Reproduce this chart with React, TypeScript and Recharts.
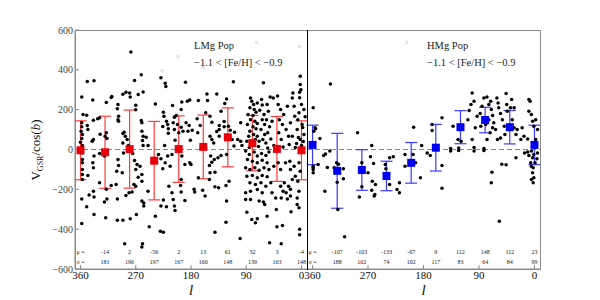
import { ScatterChart, Scatter, XAxis, YAxis, ReferenceLine, ErrorBar } from 'recharts';

const L_TICKS = [360, 270, 180, 90, 0];
const V_TICKS = [-600, -400, -200, 0, 200, 400, 600];
const BINS = [360, 320, 280, 240, 200, 160, 120, 80, 40, 0];

// first bin (360) is the same stars as the last one (0), wrapped
const LMG_MU = [-4, -14, 2, -56, 2, 13, 61, 32, 3, -4];
const LMG_SIGMA = [148, 181, 196, 197, 167, 160, 148, 139, 163, 148];
const HMG_MU = [23, -107, -103, -133, -67, 9, 112, 148, 112, 23];
const HMG_SIGMA = [99, 188, 102, 74, 102, 117, 83, 64, 84, 99];

const LMG_DOTS: [number, number][] = [
  [278, 490], [358, 263], [349, 341], [338, 345], [340, 249], [356, 176], [350, 172], [358, 134], [358, 114], [359, 92],
  [357, 75], [358, 55], [360, 37], [357, 20], [349, 120], [348, 100], [339, 147], [332, 154], [329, 160], [339, 50],
  [341, 42], [328, 77], [320, 67], [317, 55], [318, 84], [318, 236], [310, 261], [309, 266], [299, 226], [300, 204],
  [298, 167], [299, 150], [298, 142], [291, 278], [286, 288], [280, 284], [279, 264], [291, 80], [289, 87], [287, 67],
  [284, 50], [272, 346], [261, 375], [258, 289], [266, 276], [270, 199], [270, 222], [261, 145], [260, 134], [260, 92],
  [258, 67], [253, 62], [259, 45], [250, 20], [238, 229], [229, 360], [222, 333], [221, 316], [225, 187], [224, 167],
  [220, 142], [218, 125], [226, 115], [217, 104], [217, 82], [223, 20], [210, 221], [207, 162], [204, 171], [209, 134],
  [207, 100], [202, 125], [200, 84], [206, 47], [195, 239], [196, 201], [186, 242], [182, 249], [189, 338], [188, 134],
  [196, 112], [193, 92], [185, 92], [183, 120], [181, 47], [291, 33], [282, 20], [258, 20],
  [111, 340], [138, 279], [122, 254], [131, 192], [125, 231], [154, 279], [153, 246], [168, 246], [156, 184], [149, 167],
  [146, 137], [170, 154], [165, 120], [169, 84], [178, 97], [149, 67], [146, 50], [143, 33], [138, 90], [134, 120],
  [134, 100], [134, 67], [126, 140], [126, 114], [119, 117], [116, 97], [113, 50], [109, 87], [104, 50], [99, 42],
  [99, 134], [110, 17], [97, 20],
  [83, 259], [81, 242], [78, 226], [84, 209], [77, 201], [74, 187], [79, 171], [83, 150], [76, 142], [72, 130],
  [79, 114], [74, 104], [84, 92], [78, 75], [72, 67], [75, 50], [69, 42], [80, 33], [65, 251], [64, 224],
  [68, 197], [61, 176], [64, 150], [60, 125], [66, 100], [60, 75], [63, 50], [58, 33], [56, 226], [54, 192],
  [57, 150], [52, 114], [55, 84], [50, 53], [48, 142], [62, 335], [51, 264], [72, 234], [87, 176], [88, 125],
  [86, 67], [89, 42], [38, 226], [34, 201], [29, 176], [36, 150], [31, 125], [23, 217], [25, 100], [21, 67],
  [33, 50], [18, 134], [37, 84], [46, 259], [39, 268], [14, 284], [15, 259], [2, 368], [2, 326], [3, 288],
  [0, 226], [4, 184], [-4, 201], [6, 150], [-1, 125], [7, 100], [-4, 75], [2, 50], [8, 30], [-6, 164],
  [12, 217], [11, 167], [15, 67], [1, 300], [3, 260], [-2, 110], [5, 60], [0, 20], [-3, 40],
  [85, 10], [70, 15], [55, 8], [45, 20], [30, 12], [20, 25], [10, 10],
  [358, -371], [358, -248], [350, -288], [346, -228], [339, -209], [338, -238], [348, -130], [357, -100], [357, -125], [357, -150],
  [357, -67], [357, -50], [357, -17], [338, -326], [329, -167], [318, -200], [321, -264], [317, -248], [319, -343], [310, -181],
  [302, -176], [300, -248], [300, -355], [291, -355], [288, -473], [286, -231], [281, -217], [276, -214], [273, -176], [270, -184],
  [279, -348], [269, -326], [260, -259], [257, -268], [257, -284], [259, -473], [260, -490], [250, -209], [248, -388], [238, -335],
  [230, -410], [225, -415], [225, -254], [229, -284], [220, -288], [211, -217], [209, -251], [207, -284], [206, -306], [196, -214],
  [197, -181], [190, -256], [196, -150], [216, -184],
  [338, -33], [340, -67], [339, -92], [329, -20], [321, -33], [299, -50], [298, -80], [301, -109], [292, -117], [290, -17],
  [272, -55], [268, -75], [270, -100], [263, -84], [260, -125], [266, -139], [260, -159], [275, -20], [229, -47], [222, -67],
  [214, -84], [226, -97], [218, -33], [211, -25], [195, -33], [190, -75], [182, -67], [233, -25],
  [180, -75], [175, -200], [174, -214], [157, -234], [161, -204], [168, -142], [150, -151], [149, -117], [141, -114], [150, -80],
  [146, -64], [142, -50], [136, -42], [148, -33], [131, -30], [122, -25], [141, -187], [135, -192], [123, -181], [118, -159],
  [122, -259], [123, -365], [141, -415], [100, -447], [91, -217], [91, -251], [83, -251], [89, -315], [81, -351], [75, -368],
  [72, -348], [69, -259], [62, -264], [60, -276], [56, -335], [41, -301], [42, -243], [33, -243], [40, -388], [31, -381],
  [52, -468], [33, -473], [17, -313], [3, -401], [3, -428], [7, -276], [4, -293], [4, -209], [7, -243], [18, -234],
  [23, -248], [18, -200], [25, -217], [30, -209],
  [91, -8], [85, -25], [77, -13], [72, -33], [65, -20], [58, -30], [53, -13], [88, -50], [80, -59], [72, -67],
  [64, -54], [56, -67], [91, -92], [84, -100], [76, -92], [69, -104], [61, -92], [53, -100], [89, -134], [80, -130],
  [72, -142], [64, -130], [56, -137], [84, -167], [75, -176], [66, -167], [58, -184], [83, -209], [72, -201], [64, -217],
  [50, -167], [48, -217], [45, -84], [38, -67], [34, -100], [26, -67], [19, -59], [18, -100], [12, -84], [10, -134],
  [4, -67], [2, -109], [6, -159], [21, -184], [15, -151], [28, -167], [34, -184],
];

const HMG_DOTS: [number, number][] = [
  [359, 209], [331, 329], [356, 109], [358, 92], [355, 104], [348, 55], [287, 84], [264, 20], [196, 112], [183, 20],
  [166, 125], [166, 95], [150, 159], [132, 117], [124, 50], [119, 42],
  [106, 196], [108, 150], [101, 284], [98, 242], [93, 167], [88, 181], [96, 109], [101, 50], [103, 226], [87, 117],
  [85, 217], [82, 259], [77, 264], [74, 226], [71, 242], [70, 201], [68, 171], [66, 134], [63, 100], [61, 259],
  [59, 234], [58, 209], [55, 181], [52, 150], [49, 117], [48, 75], [46, 281], [45, 226], [44, 192], [55, 58],
  [60, 50], [72, 84], [77, 50], [79, 125], [74, 150], [68, 109], [39, 209], [36, 150], [33, 109], [30, 75],
  [28, 100], [22, 50], [17, 67], [11, 53], [9, 192], [7, 242], [9, 251], [5, 176], [3, 142], [1, 117],
  [-2, 150], [-5, 100], [-2, 50], [20, 109], [37, 251], [33, 209], [136, 5], [123, 8], [98, 10], [82, 5],
  [359, -84], [359, -100], [359, -117], [359, -92], [351, -75], [342, -30], [339, -23], [332, -8], [336, -90], [340, -209],
  [325, -92], [321, -67], [318, -74], [320, -164], [319, -301], [310, -97], [310, -147], [308, -438], [284, -239], [280, -67],
  [280, -187], [270, -117], [266, -37], [261, -70], [263, -159], [258, -176], [264, -204], [259, -226], [260, -234], [242, -75],
  [241, -97], [235, -42], [229, -37], [235, -176], [223, -201], [219, -217], [219, -167], [210, -25], [210, -84], [197, -25],
  [193, -67], [185, -142], [174, -17], [169, -30], [150, -80], [150, -194], [136, -8], [123, -5], [98, -8], [82, -5],
  [69, -114], [70, -167], [57, -360], [53, -74], [46, -77], [30, -42], [16, -17], [11, -13], [9, -30], [5, -8],
  [1, -25], [3, -42], [6, -67], [5, -84], [2, -92], [3, -117], [1, -142], [5, -151], [2, -167], [-1, -67],
  [-5, -17], [-4, -47],
];

// very pale points near the top of the panels
const LMG_FAINT: [number, number][] = [[73, 537], [201, 467], [227, 397], [160, 412], [3, 517]];
const HMG_FAINT: [number, number][] = [[207, 537]];

const SERIF = '"Liberation Serif", "DejaVu Serif", serif';
const FRAME = '#8a8a8a';
const MU_ROW = -517;
const SIGMA_ROW = -567;

const minus = (v: number) => String(v).replace('-', '\u2212');

const Dot = (p: any) => <circle cx={p.cx} cy={p.cy} r={1.75} fill="#000" />;
const FaintDot = (p: any) => <circle cx={p.cx} cy={p.cy} r={1.75} fill="#e4e4e4" />;
const RowText = (p: any) => (
  <text x={p.cx} y={p.cy} textAnchor="middle" dominantBaseline="central" fontSize={6} fontFamily={SERIF} fill="#222">
    {p.payload.text}
  </text>
);

const XTitle = (p: any) => (
  <text x={p.viewBox.x + p.viewBox.width / 2} y={p.viewBox.y + 26} textAnchor="middle" fontSize={15} fontStyle="italic" fontFamily={SERIF} fill="#111">
    l
  </text>
);

const YTitle = () => (
  <text transform="translate(40, 150) rotate(-90)" textAnchor="middle" fontSize={13} fontFamily={SERIF} fill="#111">
    V<tspan fontSize={8} dy={3}>GSR</tspan>
    <tspan dy={-3}>/cos(</tspan>
    <tspan fontStyle="italic">b</tspan>)
  </text>
);

interface PanelProps {
  left: number;
  width: number;
  marginLeft: number;
  marginRight: number;
  dots: [number, number][];
  faint: [number, number][];
  mu: number[];
  sigma: number[];
  color: string;
  barColor: string;
  first: boolean;
  title: string;
  titleLeft: number;
}

function Panel(props: PanelProps) {
  const { left, width, marginLeft, marginRight, dots, faint, mu, sigma, color, barColor, first, title, titleLeft } = props;
  const pts = dots.map(([l, v]) => ({ l, v }));
  const pale = faint.map(([l, v]) => ({ l, v }));
  const means = BINS.map((l, i) => ({ l, v: mu[i], err: sigma[i] }));
  const muRow = BINS.map((l, i) => ({ l, v: MU_ROW, text: i === 0 ? '\u03bc =' : String(mu[i]) }));
  const sigmaRow = BINS.map((l, i) => ({ l, v: SIGMA_ROW, text: i === 0 ? '\u03c3 =' : String(sigma[i]) }));
  const Square = (p: any) => <rect x={p.cx - 4} y={p.cy - 4} width={8} height={8} fill={color} />;

  return (
    <div style={{ position: 'absolute', left, top: 0 }}>
      <ScatterChart width={width} height={300} margin={{ top: 30, right: marginRight, bottom: 1, left: marginLeft }}>
        <XAxis
          type="number"
          dataKey="l"
          domain={[-9, 369]}
          reversed
          ticks={L_TICKS}
          interval={0}
          allowDataOverflow
          height={30}
          stroke={FRAME}
          tickSize={-4}
          tickMargin={6}
          tick={{ fontSize: 11, fill: '#111', fontFamily: SERIF }}
          label={<XTitle />}
        />
        <YAxis
          type="number"
          dataKey="v"
          domain={[-600, 600]}
          ticks={V_TICKS}
          interval={0}
          allowDataOverflow
          width={first ? 75 : 0}
          stroke={FRAME}
          tickSize={-4}
          tickMargin={6}
          tickLine={first}
          axisLine={first}
          tick={first ? { fontSize: 10, fill: '#444', fontFamily: SERIF } : false}
          tickFormatter={minus}
          label={first ? <YTitle /> : undefined}
        />
        <ReferenceLine y={0} stroke="#888" strokeDasharray="5 3" />
        <Scatter data={pale} shape={FaintDot} isAnimationActive={false} />
        <Scatter data={pts} shape={Dot} isAnimationActive={false} />
        <Scatter data={means} shape={Square} isAnimationActive={false}>
          <ErrorBar dataKey="err" direction="y" width={6} stroke={barColor} strokeWidth={1.2} />
        </Scatter>
        <Scatter data={muRow} shape={RowText} isAnimationActive={false} />
        <Scatter data={sigmaRow} shape={RowText} isAnimationActive={false} />
      </ScatterChart>
      <div
        style={{
          position: 'absolute',
          left: titleLeft,
          top: 37,
          fontFamily: SERIF,
          fontSize: 10.5,
          lineHeight: '17px',
          color: '#222',
          whiteSpace: 'nowrap',
        }}
      >
        <div>{title}</div>
        <div>{'\u22121.1 < [Fe/H] < \u22120.9'}</div>
      </div>
    </div>
  );
}

export default function App() {
  return (
    <div style={{ position: 'absolute', left: 0, top: 0, width: 600, height: 300, background: '#fff' }}>
      <Panel
        left={0}
        width={310}
        marginLeft={0}
        marginRight={3}
        dots={LMG_DOTS}
        faint={LMG_FAINT}
        mu={LMG_MU}
        sigma={LMG_SIGMA}
        color="#e8000b"
        barColor="#ff3b3b"
        first
        title="LMg Pop"
        titleLeft={194}
      />
      <Panel
        left={292}
        width={308}
        marginLeft={15}
        marginRight={60}
        dots={HMG_DOTS}
        faint={HMG_FAINT}
        mu={HMG_MU}
        sigma={HMG_SIGMA}
        color="#0000f0"
        barColor="#3a3aff"
        first={false}
        title="HMg Pop"
        titleLeft={135}
      />
      {/* frame round both panels and the black line between them */}
      <div style={{ position: 'absolute', left: 75, top: 30, width: 464, height: 238, border: `1px solid ${FRAME}`, pointerEvents: 'none' }} />
      <div style={{ position: 'absolute', left: 307, top: 30, width: 1, height: 240, background: '#000', pointerEvents: 'none' }} />
    </div>
  );
}
